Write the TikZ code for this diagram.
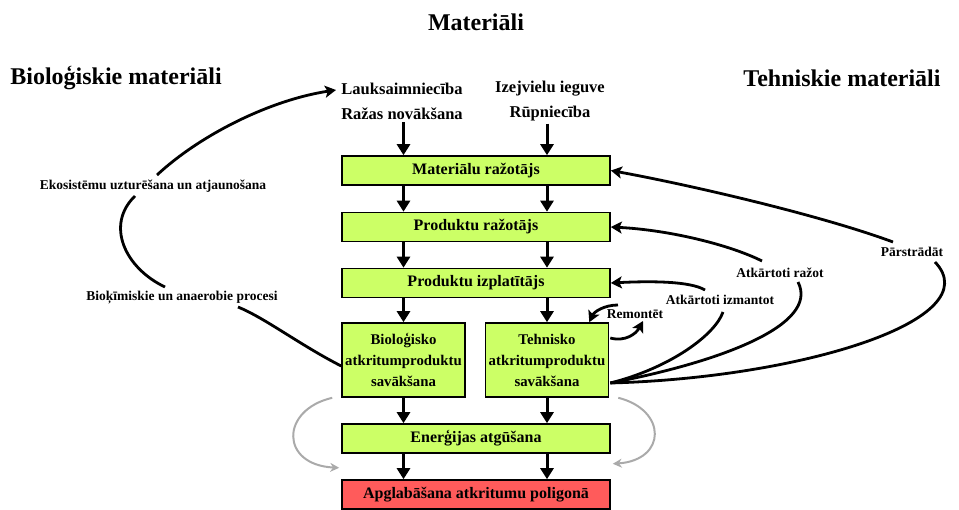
\documentclass[tikz,border=0pt]{standalone}
\usepackage{fontspec}
\setmainfont{Liberation Serif}
\usetikzlibrary{arrows.meta,calc}
\definecolor{boxgreen}{HTML}{CCFF66}
\definecolor{boxred}{HTML}{FF5B5B}
\definecolor{grayarr}{HTML}{AAAAAA}
\begin{document}
\begin{tikzpicture}[x=1pt,y=-1pt,
  box/.style={draw,line width=1.6pt,fill=boxgreen,font=\bfseries\fontsize{16}{19}\selectfont,minimum width=268pt,minimum height=29pt,inner sep=0pt},
  tallbox/.style={box,minimum width=123pt,minimum height=74pt,align=center,font=\bfseries\fontsize{14.8}{21}\selectfont},
  head/.style={font=\bfseries\fontsize{24}{28}\selectfont,inner sep=0pt},
  src/.style={font=\bfseries\fontsize{16.5}{25}\selectfont,align=center,inner sep=0pt},
  lab/.style={font=\bfseries\fontsize{13.5}{16}\selectfont,inner sep=1pt},
  arr/.style={line width=3pt,-{Triangle[length=11pt,width=13pt]}},
  curv/.style={line width=2.8pt,-{Stealth[length=11pt,width=12pt,inset=2.5pt]}},
  plain/.style={line width=2.8pt},
  grayline/.style={line width=2pt,draw=grayarr,-{Stealth[length=9pt,width=9pt]}}
]
\useasboundingbox (0,0) rectangle (959,510);

% headings
\node[head] (title) at (476,22) {Materiāli};
\node[head] (bio) at (116,78) {Bioloģiskie materiāli};
\node[head] (tech) at (842,78) {Tehniskie materiāli};

% sources
\node[src] (lauk) at (402,101.5) {Lauksaimniecība\\Ražas novākšana};
\node[src] (izej) at (550,101.5) {Izejvielu ieguve\\Rūpniecība};
\coordinate (laukin) at (336,90);

% boxes
\node[box] (mat) at (476,170.5) {Materiālu ražotājs};
\node[box] (prod) at (476,227) {Produktu ražotājs};
\node[box] (izpl) at (476,283) {Produktu izplatītājs};
\node[tallbox] (biobox) at (403.5,360) {\raisebox{2pt}{\parbox{120pt}{\centering Bioloģisko\\atkritumproduktu\\savākšana}}};
\node[tallbox] (techbox) at (547,360) {\raisebox{2pt}{\parbox{120pt}{\centering Tehnisko\\atkritumproduktu\\savākšana}}};
\node[box] (energ) at (476,438.5) {Enerģijas atgūšana};
\node[box,fill=boxred] (apgl) at (476,494.5) {Apglabāšana atkritumu poligonā};

% vertical arrows
\draw[arr] ($(lauk.south -| biobox)+(0,2)$) -- (mat.north -| biobox);
\draw[arr] ($(izej.south -| techbox)+(0,2)$) -- (mat.north -| techbox);
\draw[arr] (mat.south -| biobox) -- (prod.north -| biobox);
\draw[arr] (mat.south -| techbox) -- (prod.north -| techbox);
\draw[arr] (prod.south -| biobox) -- (izpl.north -| biobox);
\draw[arr] (prod.south -| techbox) -- (izpl.north -| techbox);
\draw[arr] (izpl.south -| biobox) -- (biobox.north);
\draw[arr] (izpl.south -| techbox) -- (techbox.north);
\draw[arr] (biobox.south) -- (energ.north -| biobox);
\draw[arr] (techbox.south) -- (energ.north -| techbox);
\draw[arr] (energ.south -| biobox) -- (apgl.north -| biobox);
\draw[arr] (energ.south -| techbox) -- (apgl.north -| techbox);

% left labels and cycle
\node[lab] (eko) at (153,186) {Ekosistēmu uzturēšana un atjaunošana};
\node[lab] (bioq) at (182,298) {Bioķīmiskie un anaerobie procesi};
\draw[plain] ($(biobox.west)+(0,6)$) .. controls (300,345) and (265,318) .. (238,307);
\draw[plain] (165,287) .. controls (125,268) and (105,225) .. (135,196);
\draw[curv] (157,175) .. controls (200,135) and (270,100) .. (laukin);

% right labels
\node[lab] (izm) at (720,300) {Atkārtoti izmantot};
\node[lab] (raz) at (780,273) {Atkārtoti ražot};
\node[lab] (par) at (912,252) {Pārstrādāt};
\node[lab] (rem) at (635,314) {Remontēt};
\coordinate (techout) at ($(techbox.east)+(1,23)$);

% Atkārtoti izmantot
\draw[plain] (techout) .. controls (670,368) and (715,335) .. (723,312);
\draw[curv] (705,290) .. controls (690,281) and (650,281) .. (izpl.east);
% Atkārtoti ražot
\draw[plain] (techout) .. controls (720,362) and (820,325) .. (798,282);
\draw[curv] (762,261) .. controls (730,245) and (670,230) .. (prod.east);
% Pārstrādāt
\draw[plain] (techout) .. controls (800,378) and (990,320) .. (935,262);
\draw[curv] (893,242) .. controls (820,215) and (690,185) .. (mat.east);
% Remontēt
\draw[curv] ($(techbox.east)+(1,-22)$) .. controls (625,342) and (636,334) .. (643,321);
\draw[curv] (618,305) .. controls (604,305) and (594,312) .. ($(techbox.north east)+(-20,0)$);

% gray arrows
\draw[grayline] ($(biobox.south west)+(-9,0)$) .. controls (280,410) and (280,465) .. ($(energ.south west)+(-2,14)$);
\draw[grayline] ($(techbox.south east)+(9,0)$) .. controls (667,410) and (667,460) .. ($(energ.south east)+(2,10)$);
\end{tikzpicture}
\end{document}
